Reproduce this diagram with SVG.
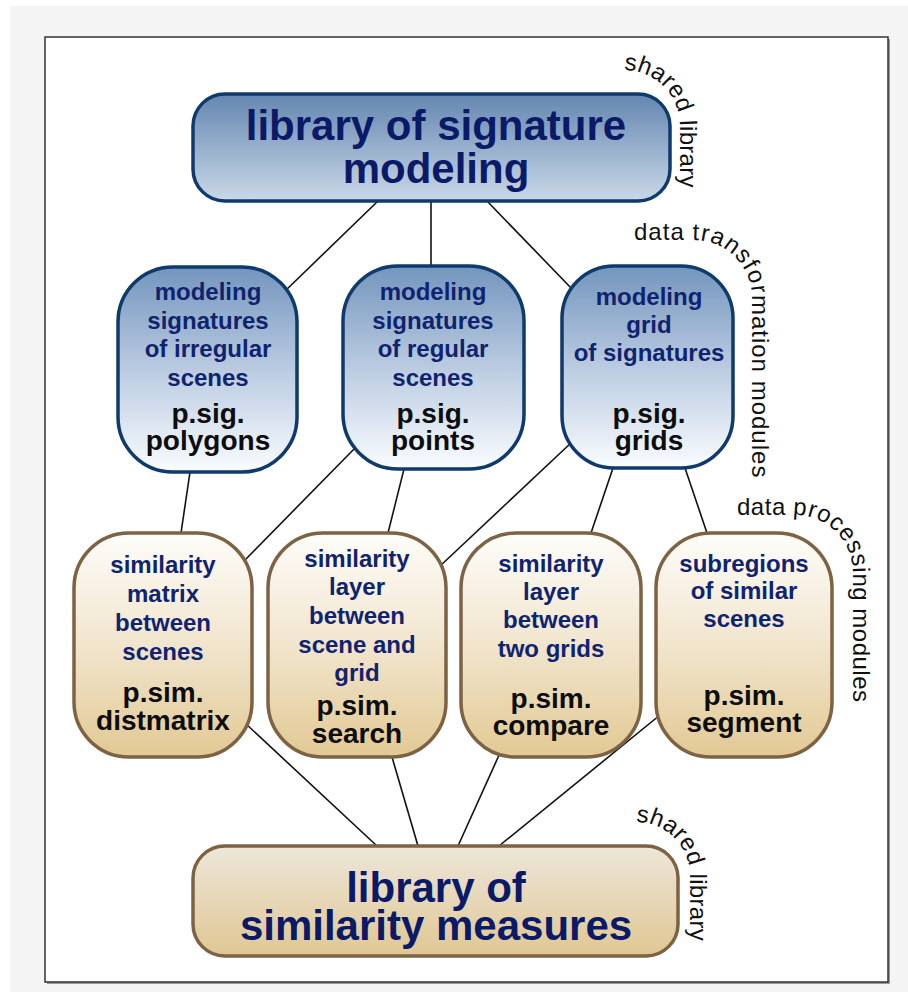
<svg xmlns="http://www.w3.org/2000/svg" width="908" height="992" viewBox="0 0 908 992">
<defs>
<linearGradient id="gTop" x1="0" y1="0" x2="0" y2="1"><stop offset="0" stop-color="#6486b0"/><stop offset="1" stop-color="#cad8e8"/></linearGradient>
<linearGradient id="gBlue" x1="0" y1="0" x2="0" y2="1"><stop offset="0" stop-color="#7395bd"/><stop offset="0.5" stop-color="#bacbe1"/><stop offset="1" stop-color="#fafcff"/></linearGradient>
<linearGradient id="gTan" x1="0" y1="0" x2="0" y2="1"><stop offset="0" stop-color="#fefdfa"/><stop offset="0.5" stop-color="#f1e5cd"/><stop offset="1" stop-color="#e2c994"/></linearGradient>
<linearGradient id="gBot" x1="0" y1="0" x2="0" y2="1"><stop offset="0" stop-color="#ede6da"/><stop offset="1" stop-color="#e0c793"/></linearGradient>
<path id="arc1" d="M 624 70 A 56 56 0 0 1 680 126 L 680 240"/>
<path id="arc2" d="M 634 240 L 694 240 A 58 58 0 0 1 752 298 L 752 500"/>
<path id="arc3" d="M 737 515 L 795 515 A 58 58 0 0 1 853 573 L 853 730"/>
<path id="arc4" d="M 636 822 A 54 54 0 0 1 690 876 L 690 975"/>
</defs>
<style>
text{font-family:"Liberation Sans",Arial,sans-serif;text-anchor:middle;font-weight:bold}
.big{font-size:42px;fill:#0b1a66}
.bl{font-size:24px;fill:#10236f}
.cd{font-size:28px;fill:#0d0d0d}
.side{font-size:24px;fill:#111;font-weight:normal;text-anchor:start}
.blue{fill:url(#gBlue);stroke:#0f3a6c;stroke-width:3.5}
.tan{fill:url(#gTan);stroke:#7d6244;stroke-width:3.5}
.conn line{stroke:#111;stroke-width:1.6}
</style>
<rect x="0" y="0" width="908" height="992" fill="#ffffff"/>
<rect x="10" y="6" width="898" height="986" fill="#f4f4f4"/>
<rect x="47" y="39" width="843" height="945" fill="#9a9a9a"/>
<rect x="45" y="37" width="843" height="945" fill="#ffffff" stroke="#333" stroke-width="1.5"/>

<g id="connectors" class="conn">
<line x1="378" y1="201" x2="283" y2="293"/>
<line x1="431" y1="201" x2="431" y2="266"/>
<line x1="487" y1="201" x2="573" y2="290"/>
<line x1="190" y1="472" x2="181" y2="533"/>
<line x1="357" y1="446" x2="243" y2="562"/>
<line x1="404" y1="469" x2="388" y2="533"/>
<line x1="572" y1="442" x2="439" y2="567"/>
<line x1="613" y1="468" x2="591" y2="533"/>
<line x1="685" y1="468" x2="707" y2="533"/>
<line x1="245" y1="723" x2="377" y2="846"/>
<line x1="392" y1="757" x2="418" y2="846"/>
<line x1="500" y1="753" x2="458" y2="846"/>
<line x1="660" y1="715" x2="499" y2="846"/>
</g>

<g id="lib-signature">
<rect x="193" y="94" width="477" height="107" rx="32" fill="url(#gTop)" stroke="#0f3a6c" stroke-width="3.5"/>
<text class="big"><tspan x="436" y="140">library of signature</tspan><tspan x="436" y="183">modeling</tspan></text>
</g>

<g id="sig-polygons">
<rect class="blue" x="118" y="267" width="179" height="205" rx="55"/>
<text><tspan class="bl" x="208" y="300">modeling</tspan><tspan class="bl" x="208" y="329">signatures</tspan><tspan class="bl" x="208" y="357">of irregular</tspan><tspan class="bl" x="208" y="386">scenes</tspan><tspan class="cd" x="208" y="423">p.sig.</tspan><tspan class="cd" x="208" y="450">polygons</tspan></text>
</g>

<g id="sig-points">
<rect class="blue" x="343" y="266" width="181" height="203" rx="55"/>
<text><tspan class="bl" x="433" y="300">modeling</tspan><tspan class="bl" x="433" y="329">signatures</tspan><tspan class="bl" x="433" y="357">of regular</tspan><tspan class="bl" x="433" y="386">scenes</tspan><tspan class="cd" x="433" y="423">p.sig.</tspan><tspan class="cd" x="433" y="450">points</tspan></text>
</g>

<g id="sig-grids">
<rect class="blue" x="562" y="266" width="171" height="202" rx="52"/>
<text><tspan class="bl" x="649" y="305">modeling</tspan><tspan class="bl" x="649" y="333">grid</tspan><tspan class="bl" x="649" y="361">of signatures</tspan><tspan class="cd" x="649" y="423">p.sig.</tspan><tspan class="cd" x="649" y="450">grids</tspan></text>
</g>

<g id="sim-distmatrix">
<rect class="tan" x="74" y="533" width="178" height="224" rx="55"/>
<text><tspan class="bl" x="163" y="573">similarity</tspan><tspan class="bl" x="163" y="602">matrix</tspan><tspan class="bl" x="163" y="631">between</tspan><tspan class="bl" x="163" y="660">scenes</tspan><tspan class="cd" x="163" y="702">p.sim.</tspan><tspan class="cd" x="163" y="730">distmatrix</tspan></text>
</g>

<g id="sim-search">
<rect class="tan" x="268" y="533" width="178" height="224" rx="55"/>
<text><tspan class="bl" x="357" y="567">similarity</tspan><tspan class="bl" x="357" y="595">layer</tspan><tspan class="bl" x="357" y="624">between</tspan><tspan class="bl" x="357" y="653">scene and</tspan><tspan class="bl" x="357" y="681">grid</tspan><tspan class="cd" x="357" y="715">p.sim.</tspan><tspan class="cd" x="357" y="743">search</tspan></text>
</g>

<g id="sim-compare">
<rect class="tan" x="461" y="533" width="180" height="224" rx="55"/>
<text><tspan class="bl" x="551" y="572">similarity</tspan><tspan class="bl" x="551" y="600">layer</tspan><tspan class="bl" x="551" y="628">between</tspan><tspan class="bl" x="551" y="657">two grids</tspan><tspan class="cd" x="551" y="708">p.sim.</tspan><tspan class="cd" x="551" y="735">compare</tspan></text>
</g>

<g id="sim-segment">
<rect class="tan" x="656" y="533" width="176" height="224" rx="55"/>
<text><tspan class="bl" x="744" y="572">subregions</tspan><tspan class="bl" x="744" y="599">of similar</tspan><tspan class="bl" x="744" y="627">scenes</tspan><tspan class="cd" x="744" y="705">p.sim.</tspan><tspan class="cd" x="744" y="732">segment</tspan></text>
</g>

<g id="lib-similarity">
<rect x="193" y="846" width="485" height="110" rx="32" fill="url(#gBot)" stroke="#7d6244" stroke-width="3.5"/>
<text class="big"><tspan x="436" y="902">library of</tspan><tspan x="436" y="940">similarity measures</tspan></text>
</g>

<g id="side-labels">
<text class="side" letter-spacing="0.3"><textPath href="#arc1">shared library</textPath></text>
<text class="side" letter-spacing="1"><textPath href="#arc2">data transformation modules</textPath></text>
<text class="side" letter-spacing="0.5"><textPath href="#arc3">data processing modules</textPath></text>
<text class="side" letter-spacing="0.3"><textPath href="#arc4">shared library</textPath></text>
</g>
</svg>
